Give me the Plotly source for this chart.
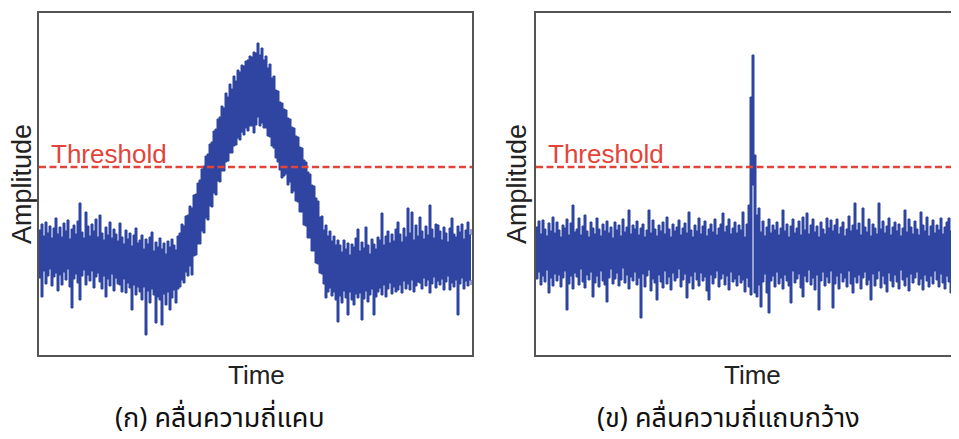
import plotly.graph_objects as go

# ---------------------------------------------------------------------------
# Data: upper / lower envelope of the noisy signal,
# one pair per sample (arbitrary amplitude units, 0 = bottom of the frame).
# ---------------------------------------------------------------------------
left_upper = [
    125, 131, 119, 133, 122, 129, 117, 127, 137, 121,
    128, 118, 132, 124, 135, 116, 126, 130, 121, 134,
    152, 123, 117, 143, 129, 119, 131, 124, 136, 118,
    140, 122, 115, 128, 120, 133, 117, 126, 121, 114,
    132, 118, 111, 125, 116, 122, 109, 120, 127, 112,
    115, 120, 106, 116, 111, 118, 123, 104, 113, 108,
    117, 106, 112, 101, 114, 108, 116, 110, 105, 119,
    122, 131, 129, 139, 140, 149, 147, 160, 161, 172,
    175, 186, 189, 199, 201, 211, 213, 224, 226, 236,
    238, 249, 247, 262, 258, 271, 266, 279, 274, 285,
    283, 290, 289, 294, 295, 299, 298, 303, 302, 312,
    300, 307, 295, 299, 287, 291, 277, 279, 265, 264,
    253, 252, 246, 245, 237, 236, 228, 227, 219, 218,
    208, 207, 195, 193, 183, 181, 170, 169, 157, 154,
    138, 139, 125, 130, 119, 124, 114, 119, 110, 115,
    110, 103, 115, 106, 112, 100, 111, 108, 117, 126,
    104, 113, 107, 128, 110, 101, 116, 111, 106, 118,
    115, 142, 110, 119, 124, 112, 121, 114, 126, 133,
    121, 113, 127, 118, 147, 122, 143, 115, 130, 119,
    138, 124, 116, 129, 120, 150, 126, 117, 131, 130,
    124, 115, 128, 122, 113, 127, 137, 121, 118, 129,
    123, 131, 116, 125, 133, 120, 126,
]
left_lower = [
    77, 58, 84, 71, 79, 86, 69, 78, 82, 64,
    80, 70, 83, 75, 86, 68, 47, 76, 81, 72,
    55, 79, 85, 70, 80, 74, 84, 67, 78, 82,
    73, 66, 79, 58, 76, 69, 81, 64, 77, 71,
    70, 63, 76, 62, 72, 67, 45, 70, 60, 68,
    63, 55, 68, 20, 64, 52, 66, 60, 32, 58,
    55, 30, 61, 50, 63, 45, 57, 65, 52, 66,
    68, 75, 72, 83, 79, 89, 80, 99, 100, 111,
    111, 124, 122, 137, 135, 149, 148, 162, 160, 174,
    173, 184, 184, 193, 194, 202, 202, 209, 210, 217,
    215, 223, 220, 227, 224, 229, 229, 222, 230, 238,
    229, 232, 227, 227, 219, 218, 209, 207, 197, 193,
    185, 177, 179, 181, 170, 173, 162, 164, 154, 153,
    143, 143, 130, 129, 117, 117, 104, 104, 92, 91,
    82, 81, 71, 57, 63, 67, 59, 63, 55, 33,
    59, 52, 64, 57, 40, 63, 55, 50, 61, 57,
    62, 35, 56, 64, 53, 60, 66, 40, 58, 63,
    67, 60, 70, 58, 66, 72, 61, 68, 63, 65,
    70, 62, 74, 66, 71, 65, 75, 63, 69, 73,
    72, 66, 77, 69, 75, 62, 71, 78, 67, 74,
    70, 76, 65, 73, 79, 65, 72, 68, 75, 40,
    71, 77, 66, 74, 69, 75, 70,
]

right_upper = [
    128, 134, 121, 135, 126, 119, 132, 124, 138, 122,
    133, 125, 118, 130, 127, 136, 120, 132, 150, 123,
    126, 137, 120, 129, 140, 124, 118, 133, 127, 121,
    137, 126, 119, 131, 124, 134, 122, 128, 117, 133,
    125, 130, 119, 136, 123, 128, 145, 121, 130, 126,
    134, 120, 127, 131, 118, 125, 145, 122, 135, 126,
    119, 130, 124, 133, 121, 138, 126, 118, 131, 124,
    128, 135, 120, 127, 132, 122, 143, 125, 118, 130,
    124, 137, 121, 129, 134, 119, 126, 131, 123, 136,
    120, 127, 131, 142, 123, 129, 136, 121, 127, 133,
    122, 130, 125, 143, 118, 131, 150, 258, 300, 200,
    140, 147, 123, 134, 119, 128, 136, 122, 130, 125,
    133, 120, 127, 145, 124, 131, 118, 129, 136, 122,
    127, 134, 120, 138, 125, 142, 121, 130, 136, 123,
    129, 118, 133, 126, 121, 137, 127, 135, 124, 130,
    136, 121, 128, 133, 119, 126, 139, 124, 130, 152,
    125, 132, 120, 147, 128, 123, 136, 119, 131, 127,
    121, 152, 126, 134, 122, 129, 137, 120, 128, 133,
    124, 131, 119, 127, 145, 123, 136, 128, 121, 134,
    126, 120, 143, 130, 124, 138, 119, 129, 135, 122,
    130, 125, 137, 121, 128, 133, 137, 124, 119, 131,
    127, 122,
]
right_lower = [
    76, 83, 70, 79, 73, 85, 62, 77, 69, 81,
    74, 80, 68, 77, 84, 45, 71, 79, 66, 82,
    78, 70, 86, 73, 67, 80, 75, 83, 58, 72,
    79, 68, 84, 74, 70, 53, 77, 86, 71, 76,
    82, 69, 75, 87, 72, 80, 66, 78, 74, 83,
    70, 77, 37, 81, 68, 79, 85, 64, 76, 72,
    55, 80, 73, 67, 84, 71, 78, 65, 82, 74,
    77, 86, 68, 75, 81, 57, 72, 79, 66, 83,
    75, 69, 82, 74, 78, 64, 55, 80, 71, 77,
    84, 68, 76, 81, 70, 79, 65, 83, 73, 76,
    69, 80, 72, 75, 63, 77, 68, 60, 170, 62,
    58, 70, 48, 73, 81, 62, 42, 74, 79, 68,
    83, 71, 77, 66, 80, 74, 69, 52, 84, 72,
    76, 81, 67, 58, 79, 73, 85, 70, 77, 65,
    80, 45, 74, 83, 69, 78, 72, 84, 47, 71,
    79, 66, 82, 73, 77, 68, 84, 71, 62, 78,
    72, 80, 66, 77, 83, 70, 75, 55, 81, 69,
    76, 84, 67, 79, 71, 63, 82, 74, 68, 80,
    73, 66, 85, 75, 69, 78, 64, 81, 72, 77,
    83, 70, 76, 65, 80, 74, 68, 79, 71, 84,
    75, 68, 81, 72, 66, 79, 73, 62, 38, 76,
    70, 78,
]

THRESHOLD = 188
SAMPLE_STEP = 2
Y_RANGE = [0, 342]
LEFT_X_RANGE = [0, 433]
RIGHT_X_RANGE = [0, 423]

left_time = [i * SAMPLE_STEP for i in range(len(left_upper))]
right_time = [i * SAMPLE_STEP for i in range(len(right_upper))]

# page is shown with the browser's default 8px body margin
OFF = 8
PW, PH = 959, 439
W, H = PW - OFF, PH - OFF


def px(x):
    return (x - OFF) / W


def py(y):
    return 1 - (y - OFF) / H


BLUE = "#2f45a1"
RED = "#e3443a"
FRAME = "#555555"
TXT = "#222222"
FONT = "Liberation Sans, Arial, sans-serif"
THAI = "Noto Sans Thai, Noto Sans Thai Looped, Noto Sans, DejaVu Sans, sans-serif"

fig = go.Figure()
for t, up, lo, xa, ya in [(left_time, left_upper, left_lower, "x", "y"),
                          (right_time, right_upper, right_lower, "x2", "y2")]:
    fig.add_trace(go.Scatter(x=t, y=up, mode="lines", line=dict(color=BLUE, width=1, shape="hv"),
                             xaxis=xa, yaxis=ya, hoverinfo="skip", showlegend=False))
    fig.add_trace(go.Scatter(x=t, y=lo, mode="lines", line=dict(color=BLUE, width=1, shape="hv"),
                             fill="tonexty", fillcolor=BLUE,
                             xaxis=xa, yaxis=ya, hoverinfo="skip", showlegend=False))

dash = "7px,3.5px"
fig.add_shape(type="line", xref="x domain", yref="y", x0=0, x1=1,
              y0=THRESHOLD, y1=THRESHOLD, line=dict(color=RED, width=2.6, dash=dash))
fig.add_shape(type="line", xref="x2 domain", yref="y2", x0=0, x1=1,
              y0=THRESHOLD, y1=THRESHOLD, line=dict(color=RED, width=2.6, dash=dash))

ydom = [py(355), py(13)]
common_x = dict(showticklabels=False, ticks="", showgrid=False, zeroline=False,
                showline=True, linecolor=FRAME, linewidth=1.8, mirror=True)
common_y = dict(showticklabels=False, ticks="", showgrid=False, zeroline=False,
                showline=True, linecolor=FRAME, linewidth=1.8, range=Y_RANGE, domain=ydom)

annotations = []


def ann(text, x, y, size, color=TXT, family=FONT, angle=0, xanchor="center"):
    annotations.append(dict(text=text, x=px(x), y=py(y), xref="paper", yref="paper",
                            showarrow=False, xanchor=xanchor, yanchor="middle",
                            textangle=angle, font=dict(size=size, color=color, family=family)))


ann("Threshold", 49, 154, 26, color=RED, xanchor="left")
ann("Threshold", 546, 154, 26, color=RED, xanchor="left")
ann("Amplitude", 22, 184, 27, angle=-90)
ann("Amplitude", 517, 184, 27, angle=-90)
ann("Time", 256, 375, 26)
ann("Time", 752, 375, 26)
ann("(ก) คลื่นความถี่แคบ", 220, 418, 27, color="#111111", family=THAI)
ann("(ข) คลื่นความถี่แถบกว้าง", 728, 418, 27, color="#111111", family=THAI)

fig.update_layout(
    width=W, height=H, margin=dict(l=0, r=0, t=0, b=0),
    paper_bgcolor="white", plot_bgcolor="white",
    xaxis=dict(domain=[px(39), px(472)], range=LEFT_X_RANGE, anchor="y", **common_x),
    yaxis=dict(anchor="x", mirror=True, **common_y),
    xaxis2=dict(domain=[px(536), 1.0], range=RIGHT_X_RANGE, anchor="y2", **common_x),
    yaxis2=dict(anchor="x2", mirror=False, **common_y),
    annotations=annotations,
    showlegend=False,
)

fig.write_html("out.html")
